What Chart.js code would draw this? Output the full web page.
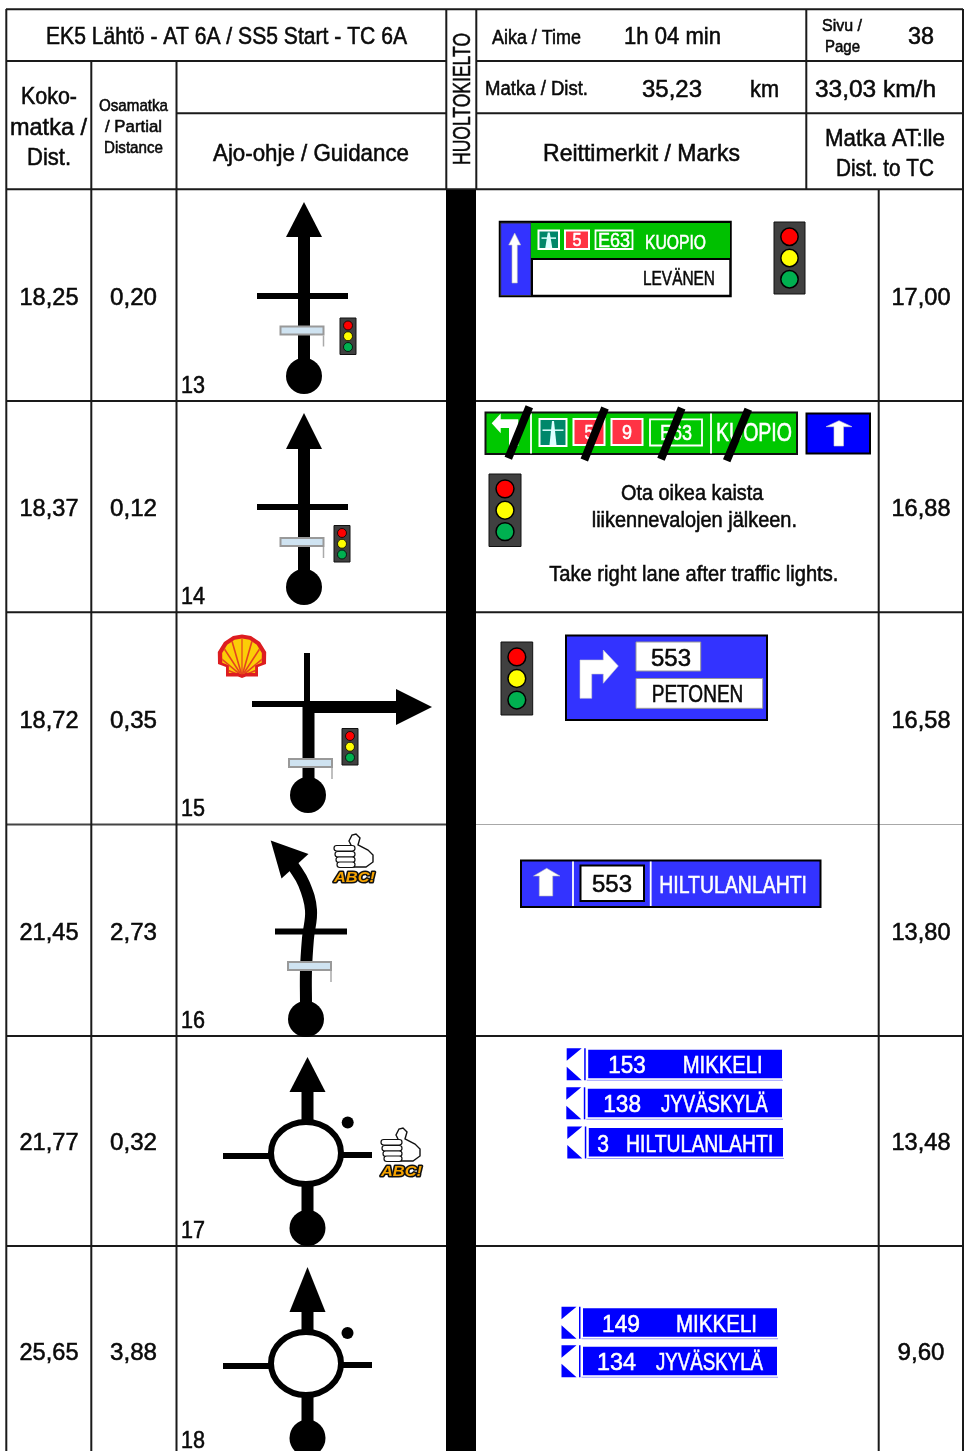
<!DOCTYPE html>
<html><head><meta charset="utf-8">
<style>html,body{margin:0;padding:0;background:#fff}canvas{display:block}#w{width:968px;height:1451px;position:relative}</style>
<script src="https://cdn.jsdelivr.net/npm/chart.js@4"></script></head>
<body><div id="w"><canvas id="c" width="968" height="1451"></canvas></div>
<script>
// ---- data ----
const rowNumbers=[13,14,15,16,17,18];
const totalDistance=[18.25,18.37,18.72,21.45,21.77,25.65];
const partialDistance=[0.20,0.12,0.35,2.73,0.32,3.88];
const distanceToTC=[17.00,16.88,16.58,13.80,13.48,9.60];
const title='EK5 Lähtö - AT 6A / SS5 Start - TC 6A';
const signRoads=['553','153','138','3','149','134'];
const signPlaces=['KUOPIO','LEVÄNEN','PETONEN','HILTULANLAHTI','MIKKELI','JYVÄSKYLÄ'];
// ---- layout, in axis units ----
const rowCentres=[296,507,719,931,1141,1351];
const colCentres=[49,133.5,921];
const FONT='"Liberation Sans Narrow","Liberation Sans",sans-serif';
const seg=(...a)=>{const o=[];a.forEach(s=>{for(let i=0;i<s.length;i+=2)o.push({x:s[i],y:s[i+1]});o.push({x:null,y:null});});return o;};
const lineDs=(data,w,c,tension)=>({data,showLine:true,borderColor:c,backgroundColor:c,borderWidth:w,pointRadius:0,tension:tension||0,spanGaps:false});
const valueDs=(vals,cx)=>({data:vals.map((v,i)=>({x:cx,y:rowCentres[i]})),showLine:false,pointRadius:0,values:vals});
const gridDark=seg(
 [6,9.3,963,9.3],[6,61,446,61],[476,61,963,61],[176,113.3,446,113.3],[476,113.3,963,113.3],[6,189.3,963,189.3],
 [6.3,9,6.3,1451],[91.3,61,91.3,1451],[176.5,61,176.5,1451],[446.3,9,446.3,190],[476.3,9,476.3,190],
 [806.3,9,806.3,189],[878.7,189,878.7,1451],[963,9,963,1451],
 [6,401,963,401],[6,612.3,963,612.3],[6,1036,963,1036],[6,1246,963,1246]);
const gridMid=seg([6,824.4,446,824.4]);
const gridLight=seg([476,824.5,963,824.5]);
const stems=seg([304,235,304,362],[304,447,304,573],[308.5,705,308.5,782],[307.5,1090,307.5,1122],[307.5,1184,307.5,1215],[307.5,1310,307.5,1332],[307.5,1395,307.5,1425],[303,707,398,707]);
const bars=seg([257,296,348,296],[257,507,348,507],[307,653,307,703],[252,704,305,704],[275,931.5,347,931.5],[223,1156,270,1156],[343,1155,372,1155],[223,1366,270,1366],[343,1365,372,1365]);
const curve=[{x:306,y:1005},{x:306,y:970},{x:308,y:938},{x:311,y:910},{x:304,y:884},{x:292,y:864}];

const page={id:'page',afterDatasetsDraw(ch){
 const g=ch.ctx,X=v=>ch.scales.x.getPixelForValue(v),Y=v=>ch.scales.y.getPixelForValue(v);
 const T=(s,x0,x1,base,size,col,weight)=>{g.save();g.font=(weight||'')+' '+size+'px '+FONT;g.textBaseline='alphabetic';g.textAlign='left';
   const m=g.measureText(s).width,sx=(x1-x0)/m;g.translate(X(x0),Y(base));g.scale(sx,1);g.fillStyle=col||'#0a0a0a';g.strokeStyle=col||'#0a0a0a';g.lineWidth=.55;g.fillText(s,0,0);g.strokeText(s,0,0);g.restore();};
 const C=(s,cx,w,base,size,col)=>T(s,cx-w/2,cx+w/2,base,size,col);
 const R=(x0,y0,x1,y1,f,st,lw)=>{g.beginPath();g.rect(X(x0),Y(y0),x1-x0,y1-y0);if(f){g.fillStyle=f;g.fill();}if(st){g.strokeStyle=st;g.lineWidth=lw||1;g.stroke();}};
 const P=(p,f,st,lw)=>{g.beginPath();p.forEach((q,i)=>i?g.lineTo(X(q[0]),Y(q[1])):g.moveTo(X(q[0]),Y(q[1])));g.closePath();if(f){g.fillStyle=f;g.fill();}if(st){g.strokeStyle=st;g.lineWidth=lw||1;g.stroke();}};
 const E=(x,y,rx,ry,f,st,lw)=>{g.beginPath();g.ellipse(X(x),Y(y),rx,ry,0,0,7);if(f){g.fillStyle=f;g.fill();}if(st){g.strokeStyle=st;g.lineWidth=lw;g.stroke();}};
 const L=(a,b,c,d,st,lw)=>{g.beginPath();g.moveTo(X(a),Y(b));g.lineTo(X(c),Y(d));g.strokeStyle=st;g.lineWidth=lw;g.stroke();};
 const head=(x,top,base)=>P([[x,top],[x+18,base],[x-18,base]],'#000');
 const bridge=(x,y)=>{R(x,y,x+43,y+8,'#cfe3f1','#999',2);L(x+43,y+9,x+43,y+20,'#aaa',1.5);};
 const light=(x0,y0,x1,y1)=>{const w=x1-x0,h=y1-y0,cx=(x0+x1)/2;R(x0,y0,x1,y1,'#404040','#111',1);
   [[.205,'#ff0000'],[.5,'#ffff00'],[.795,'#00b050']].forEach(a=>E(cx,y0+h*a[0],w*.28,w*.28,a[1],'#000',w>20?1.5:.8));};
 const thumb=(x,y)=>{
   P([[x+19,y+14],[x+16,y+8],[x+19,y+2],[x+23,y+1],[x+27,y+5],[x+25,y+12],[x+35,y+17],[x+40,y+22],[x+40,y+29],[x+33,y+34],[x+20,y+34]],'#fff','#111',1.4);
   [12.5,18.5,24,29].forEach((d,i)=>{g.beginPath();g.roundRect(X(x+1+i),Y(y+d),21-i,5.5,2.7);g.fillStyle='#fff';g.fill();g.strokeStyle='#111';g.lineWidth=1.2;g.stroke();});
   g.save();g.font='italic bold 15px "Liberation Sans",sans-serif';g.textBaseline='alphabetic';const m=g.measureText('ABC!').width;g.translate(X(x+1),Y(y+49));g.scale(41/m,1);g.lineJoin='round';g.strokeStyle='#111';g.lineWidth=3;g.strokeText('ABC!',0,0);g.fillStyle='#f7a400';g.fillText('ABC!',0,0);g.restore();};
 const mw=(x0,y0,x1,y1)=>{R(x0,y0,x1,y1,'#fff');R(x0+2,y0+2,x1-2,y1-2,'#00876a');const c=(x0+x1)/2,h=y1-y0;
   P([[c-1,y0+3],[c+1,y0+3],[c+3.5,y1-2],[c-3.5,y1-2]],'#dff');L(x0+4,y0+h*.42,x1-4,y0+h*.42,'#dff',1.5);};
 const redBox=(x0,y0,x1,y1,s,size,w)=>{R(x0,y0,x1,y1,'#fff');R(x0+2,y0+2,x1-2,y1-2,'#ff3344');C(s,(x0+x1)/2,w,y1-(y1-y0-size*.72)/2,size,'#fff');};
 const ePlate=(x0,y0,x1,y1,w,size)=>{R(x0,y0,x1,y1,null,'#fff',1.8);C('E63',(x0+x1)/2,w,y1-(y1-y0-size*.72)/2,size,'#fff');};
 const wedge=(x,y,x1)=>{const b='#0000ff';P([[x,y],[x+15,y],[x,y+12.5]],b);P([[x,y+18.5],[x+15,y+32],[x,y+32]],b);R(x+17.5,y,x+19,y+32,b);
   R(x+21.5,y+1.5,x1,y+30,b);R(x+20,y+31.5,x1+1,y+32.5,'#9a9aff');};

 // ---- header texts ----
 T(title,46,407,44,24);
 g.save();g.translate(X(470),Y(165));g.rotate(-Math.PI/2);g.font='24px '+FONT;const hm=g.measureText('HUOLTOKIELTO').width;g.scale(132/hm,1);g.fillStyle='#0a0a0a';g.strokeStyle='#0a0a0a';g.lineWidth=.55;g.fillText('HUOLTOKIELTO',0,0);g.strokeText('HUOLTOKIELTO',0,0);g.restore();
 T('Aika / Time',492,581,43.5,20);T('1h 04 min',624,721,44,24);
 T('Sivu /',822,862,31,17);T('Page',825,860,52,17);T('38',908,934,44,24);
 T('Koko-',21,77,103.5,24);T('matka /',10,87,135,24);T('Dist.',27,71,165,24);
 T('Osamatka',99,168,111,17);T('/ Partial',105,162,132,17);T('Distance',104,163,153,17);
 T('Ajo-ohje / Guidance',213,409,161,24);
 T('Matka / Dist.',485,588,95,20);T('35,23',642,702,97,24);T('km',750,779,97,24);T('33,03 km/h',815,936,97,24);
 T('Reittimerkit / Marks',543,740,161,24);T('Matka AT:lle',825,945,146,24);T('Dist. to TC',836,934,176,24);
 // ---- black column ----
 R(446,190,476,1451,'#000');
 // ---- value columns, from the datasets ----
 [0,1,2].forEach(k=>{const ds=ch.data.datasets[k+6];ds.data.forEach((p,i)=>{const s=ds.values[i].toFixed(2).replace('.',',');C(s,p.x,s.length>4?59:47,p.y+8.7,24);});});
 // ---- row numbers ----
 const numBase=[393,604,816,1028,1238,1448];
 rowNumbers.forEach((n,i)=>T(String(n),181,205,numBase[i],24));
 // ---- road diagrams ----
 head(304,202,237);E(304,376,18,18,'#000');bridge(280.5,326.5);light(340,318,356,354.5);
 head(304,413,449);E(304,587,18,18,'#000');bridge(280.5,538);light(334,525.5,350,562);
 P([[396,689],[432,707],[396,725]],'#000');E(308,795,18,18,'#000');bridge(289,759);light(342,728.5,358,765);
 // shell emblem
 const shellPath=(k)=>{const cx=242,cy=657,m=q=>[cx+(q[0]-cx)*k,cy+(q[1]-cy)*k];
   const pts=[[218,664],[217.8,652],[224,642],[233,636],[242,634.5],[251,636],[260,642],[266.2,652],[266,664],[258,667],[258,676.5],[246,676.5],[242,678],[238,676.5],[226,676.5],[226,667]];
   return pts.map(m);};
 P(shellPath(1),'#dd1d21');
 g.save();P(shellPath(.82),'#fbce07');g.clip();
 [-68,-50,-33,-16,0,16,33,50,68].forEach(a=>{const r=a*Math.PI/180;L(242,676,242+Math.sin(r)*44,676-Math.cos(r)*44,'#e4431f',a===0?1.2:1.6);});
 g.restore();
 // row 4
 P([[270.7,840.5],[308.5,854],[281.5,878.5]],'#000');E(306,1019,18,18,'#000');bridge(288,962);thumb(333,833);
 // row 5
 head(307.5,1057,1092);E(306,1153,35,31,'#fff','#000',6);E(347.7,1122.5,6,6,'#000');E(307.5,1228,18,18,'#000');thumb(380,1127);
 // row 6
 head(307.5,1267,1312);E(306,1363.5,35,31.5,'#fff','#000',6);E(347.5,1333,6,6,'#000');E(307.5,1438,18,18.5,'#000');

 // ---- marks: row 1 ----
 R(500,222,730.5,296,'#fff','#000',2.5);R(500.7,223,531,295.5,'#3333ff','#333',1);R(531,223,730,258,'#00c000');
 L(531,259,731,259,'#000',2);L(532,259,532,296,'#000',2);
 P([[514.7,233],[520.7,245],[517.3,245],[517.3,283],[512,283],[512,245],[508.7,245]],'#fff','#bbb',.6);
 mw(537.5,229.5,560,250);redBox(564,229.5,590,250,'5',18,9);ePlate(595.5,230.5,632.5,249,32,20);
 T(signPlaces[0],645,706,249,20,'#fff');T(signPlaces[1],643,715,285,20);
 light(774,222,805,294);
 // ---- marks: row 2 ----
 R(485.5,412.5,797,454,'#00c800','#111',2);
 P([[491.7,423.3],[500.7,413.5],[500.7,419.3],[518.3,419.3],[518.3,446],[509,446],[509,428],[500.7,428],[500.7,433.3]],'#fff');
 L(531,413.5,531,453.5,'#fff',1.8);L(711,413.5,711,453.5,'#fff',1.8);
 mw(538.5,418,567.5,447);redBox(572.5,418,605.5,446,'5',20,9);redBox(610.5,418,643.5,446,'9',20,10);
 ePlate(650,419.3,702,445.5,32,22);
 T(signPlaces[0],716,792,440.7,26,'#fff');
 [[529.3,406.7,508.3,458.3],[605,408,584.3,460],[681.7,408,661,459.3],[748.3,409.3,726.7,460.7]].forEach(s=>L(s[0],s[1],s[2],s[3],'#000',8));
 R(806.5,413.5,870,453.5,'#0000ff','#000',2);
 P([[839,420.7],[852,426.7],[843.5,426.7],[843.5,446],[834,446],[834,426.7],[826,426.7]],'#fff','#ccc',.6);
 light(489,474,521,546.5);
 T('Ota oikea kaista',621,763.3,500,22);T('liikennevalojen jälkeen.',591.7,797,527,22);T('Take right lane after traffic lights.',549.3,838.3,580.7,22);
 // ---- marks: row 3 ----
 light(501,642,532.7,715);
 R(566,635.5,767,720,'#3333ff','#000',2);
 P([[580,698.3],[580,660],[603.3,660],[603.3,650],[618.3,666],[603.3,683.3],[603.3,674],[591.7,674],[591.7,698.3]],'#fff','#ccc',.6);
 R(636,642,700.7,671,'#fff','#999',1);C(signRoads[0],671,40,665.5,24);
 R(636,678.5,762.7,708.3,'#fff','#999',1);T(signPlaces[2],651.7,743.3,702,24);
 // ---- marks: row 4 ----
 R(521,860.5,820.5,907,'#3333ff','#000',2);
 P([[546.7,868.3],[560,876],[552.7,876],[552.7,896],[539.3,896],[539.3,876],[533.5,876]],'#fff','#bbb',.6);
 L(573,861.5,573,906,'#fff',1.8);L(650.7,861.5,650.7,906,'#fff',1.8);
 R(580.5,865.5,644,901,'#fff','#000',2);C(signRoads[0],612,40,892,24);
 T(signPlaces[3],659.3,807,892.7,24,'#fff');
 // ---- marks: row 5 ----
 wedge(566.7,1048.3,782);T(signRoads[1],608.3,645.7,1072.7,24,'#fff');T(signPlaces[4],682.7,762.7,1072.7,24,'#fff');
 wedge(566.3,1087.3,782);T(signRoads[2],603.3,641,1111.7,24,'#fff');T(signPlaces[5],661,767.7,1111.7,24,'#fff');
 wedge(567.3,1126.5,783);T(signRoads[3],597.3,609,1151.7,24,'#fff');T(signPlaces[3],626,773.3,1151.7,24,'#fff');
 // ---- marks: row 6 ----
 wedge(561.5,1306.7,777);T(signRoads[4],602,640,1331.7,24,'#fff');T(signPlaces[4],676,757,1331.7,24,'#fff');
 wedge(561.5,1345.3,777);T(signRoads[5],597,636,1370,24,'#fff');T(signPlaces[5],656,763,1370,24,'#fff');
}};

new Chart(document.getElementById('c'),{type:'scatter',plugins:[page],
 data:{datasets:[
  lineDs(gridDark,2,'#1a1a1a'),lineDs(gridMid,2,'#444'),lineDs(gridLight,1,'#a8a8a8'),
  lineDs(stems,12,'#000'),lineDs(bars,6,'#000'),lineDs(curve,12,'#000',.4),
  valueDs(totalDistance,colCentres[0]),valueDs(partialDistance,colCentres[1]),valueDs(distanceToTC,colCentres[2])]},
 options:{responsive:false,animation:false,events:[],layout:{padding:0},
  plugins:{legend:{display:false},tooltip:{enabled:false},title:{display:false}},
  scales:{x:{type:'linear',min:0,max:968,display:false},y:{type:'linear',min:0,max:1451,reverse:true,display:false}}}});
</script></body></html>
